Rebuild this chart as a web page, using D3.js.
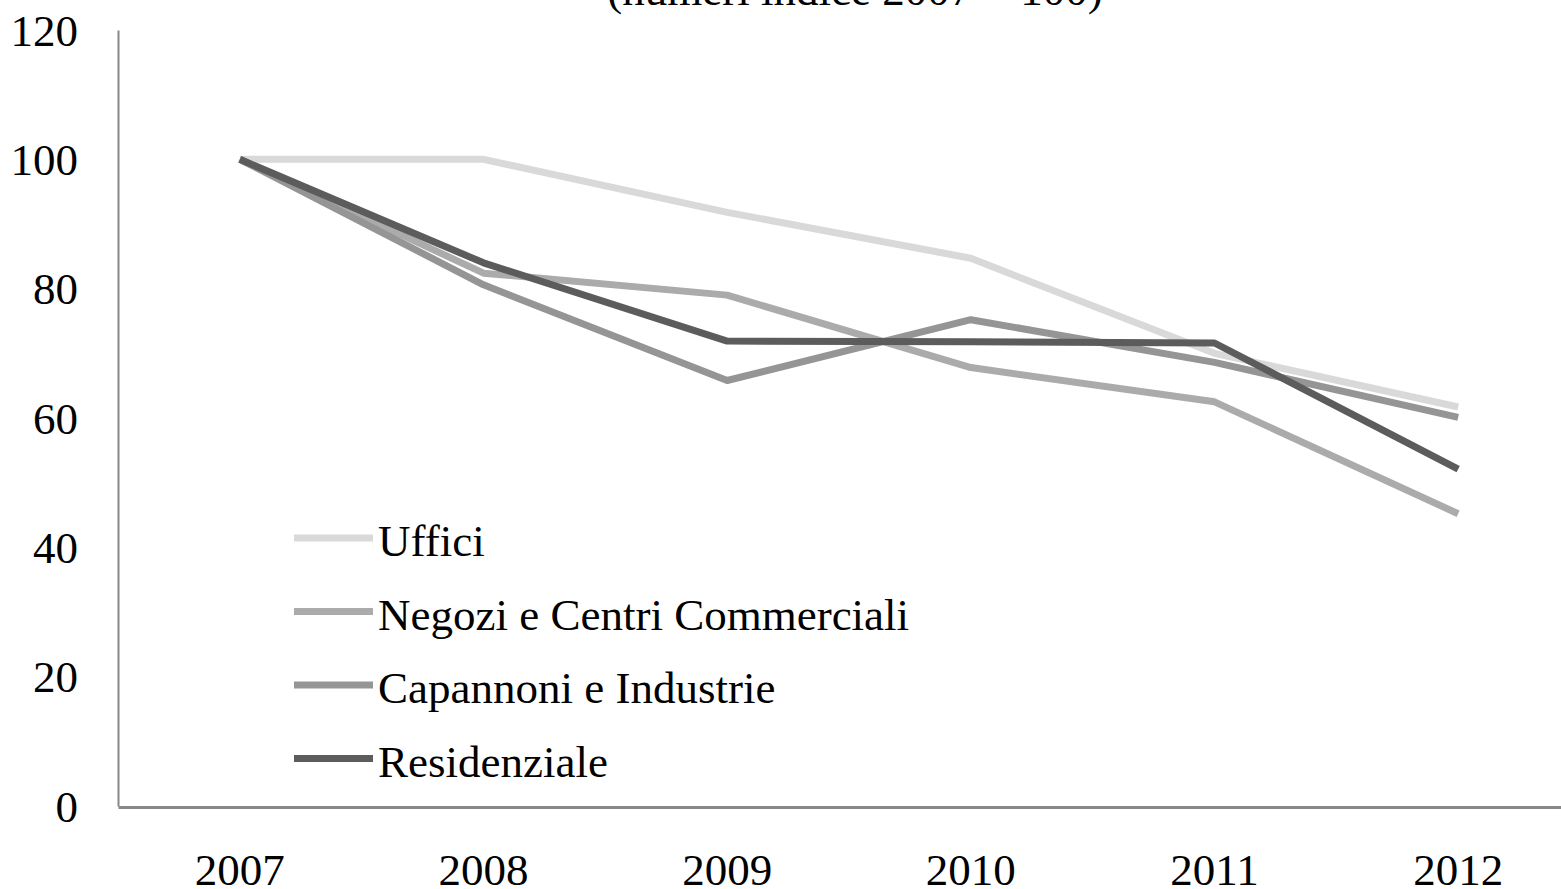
<!DOCTYPE html>
<meta charset="utf-8">
<title>Numeri indice 2007 = 100</title>

<style>
body{
	margin: 0;
	background: white;
	overflow: hidden;
}
text{
	font-family: "Liberation Serif", "Times New Roman", serif;
	fill: black;
}
</style>

<body>

<script src="https://d3js.org/d3.v7.min.js"></script>

<script>

var width = 1561;
var height = 889;

// valori (numeri indice 2007 = 100)
var anni = ['2007', '2008', '2009', '2010', '2011', '2012'];
var serie = ['Uffici', 'Negozi e Centri Commerciali', 'Capannoni e Industrie', 'Residenziale'];
var uffici = [100, 100, 91.8, 84.7, 70.0, 61.7];
var negozi = [100, 82.4, 79.0, 67.8, 62.5, 45.2];
var capannoni = [100, 80.6, 65.8, 75.2, 68.6, 60.1];
var residenziale = [100, 84.0, 71.9, 71.8, 71.6, 52.1];
var yticks = [0, 20, 40, 60, 80, 100, 120];
var colori = ['#d9d9d9', '#ababab', '#959595', '#5c5c5c'];

var valori = [uffici, negozi, capannoni, residenziale];

var svg = d3.select('body')
	.append('svg')
	.attr('width', width)
	.attr('height', height);

var x = d3.scaleBand()
	.domain(anni)
	.range([118, 1580]);

var y = d3.scaleLinear()
	.domain([0, 120])
	.range([806, 30]);

// titolo (tagliato in alto come nell'originale)
svg.append('text')
	.attr('x', 855)
	.attr('y', 5)
	.attr('text-anchor', 'middle')
	.style('font-size', '45px')
	.text('(numeri indice 2007 = 100)');

// asse y
var gy = svg.append('g')
	.attr('transform', 'translate(118,0)')
	.call(d3.axisLeft(y).tickValues(yticks).tickSize(0).tickPadding(40));

gy.select('.domain')
	.attr('stroke', '#888')
	.attr('stroke-width', 2);

gy.selectAll('text')
	.attr('font-family', null)
	.style('font-size', '45px')
	.attr('dy', '0.34em');

// asse x
var gx = svg.append('g')
	.attr('transform', 'translate(0,807)')
	.call(d3.axisBottom(x).tickSize(0).tickSizeOuter(0));

gx.select('.domain')
	.attr('stroke', '#888')
	.attr('stroke-width', 3);

gx.selectAll('text')
	.attr('font-family', null)
	.style('font-size', '45px')
	.attr('y', 78)
	.attr('dy', 0);

// linee
var line = d3.line()
	.x(function(d, i){ return x(anni[i]) + x.bandwidth() / 2; })
	.y(function(d){ return y(d); });

svg.append('g')
	.selectAll('path')
	.data(valori)
	.enter()
	.append('path')
	.attr('d', line)
	.attr('fill', 'none')
	.attr('stroke', function(d, i){ return colori[i]; })
	.attr('stroke-width', 7)
	.attr('stroke-linejoin', 'round');

// legenda
var legenda = svg.append('g')
	.selectAll('g')
	.data(serie)
	.enter()
	.append('g')
	.attr('transform', function(d, i){ return 'translate(0,' + (538 + i * 73.5) + ')'; });

legenda.append('line')
	.attr('x1', 294)
	.attr('x2', 373)
	.attr('stroke', function(d, i){ return colori[i]; })
	.attr('stroke-width', 7);

legenda.append('text')
	.attr('x', 378)
	.attr('y', 18)
	.style('font-size', '45px')
	.text(function(d){ return d; });

</script>
</body>
